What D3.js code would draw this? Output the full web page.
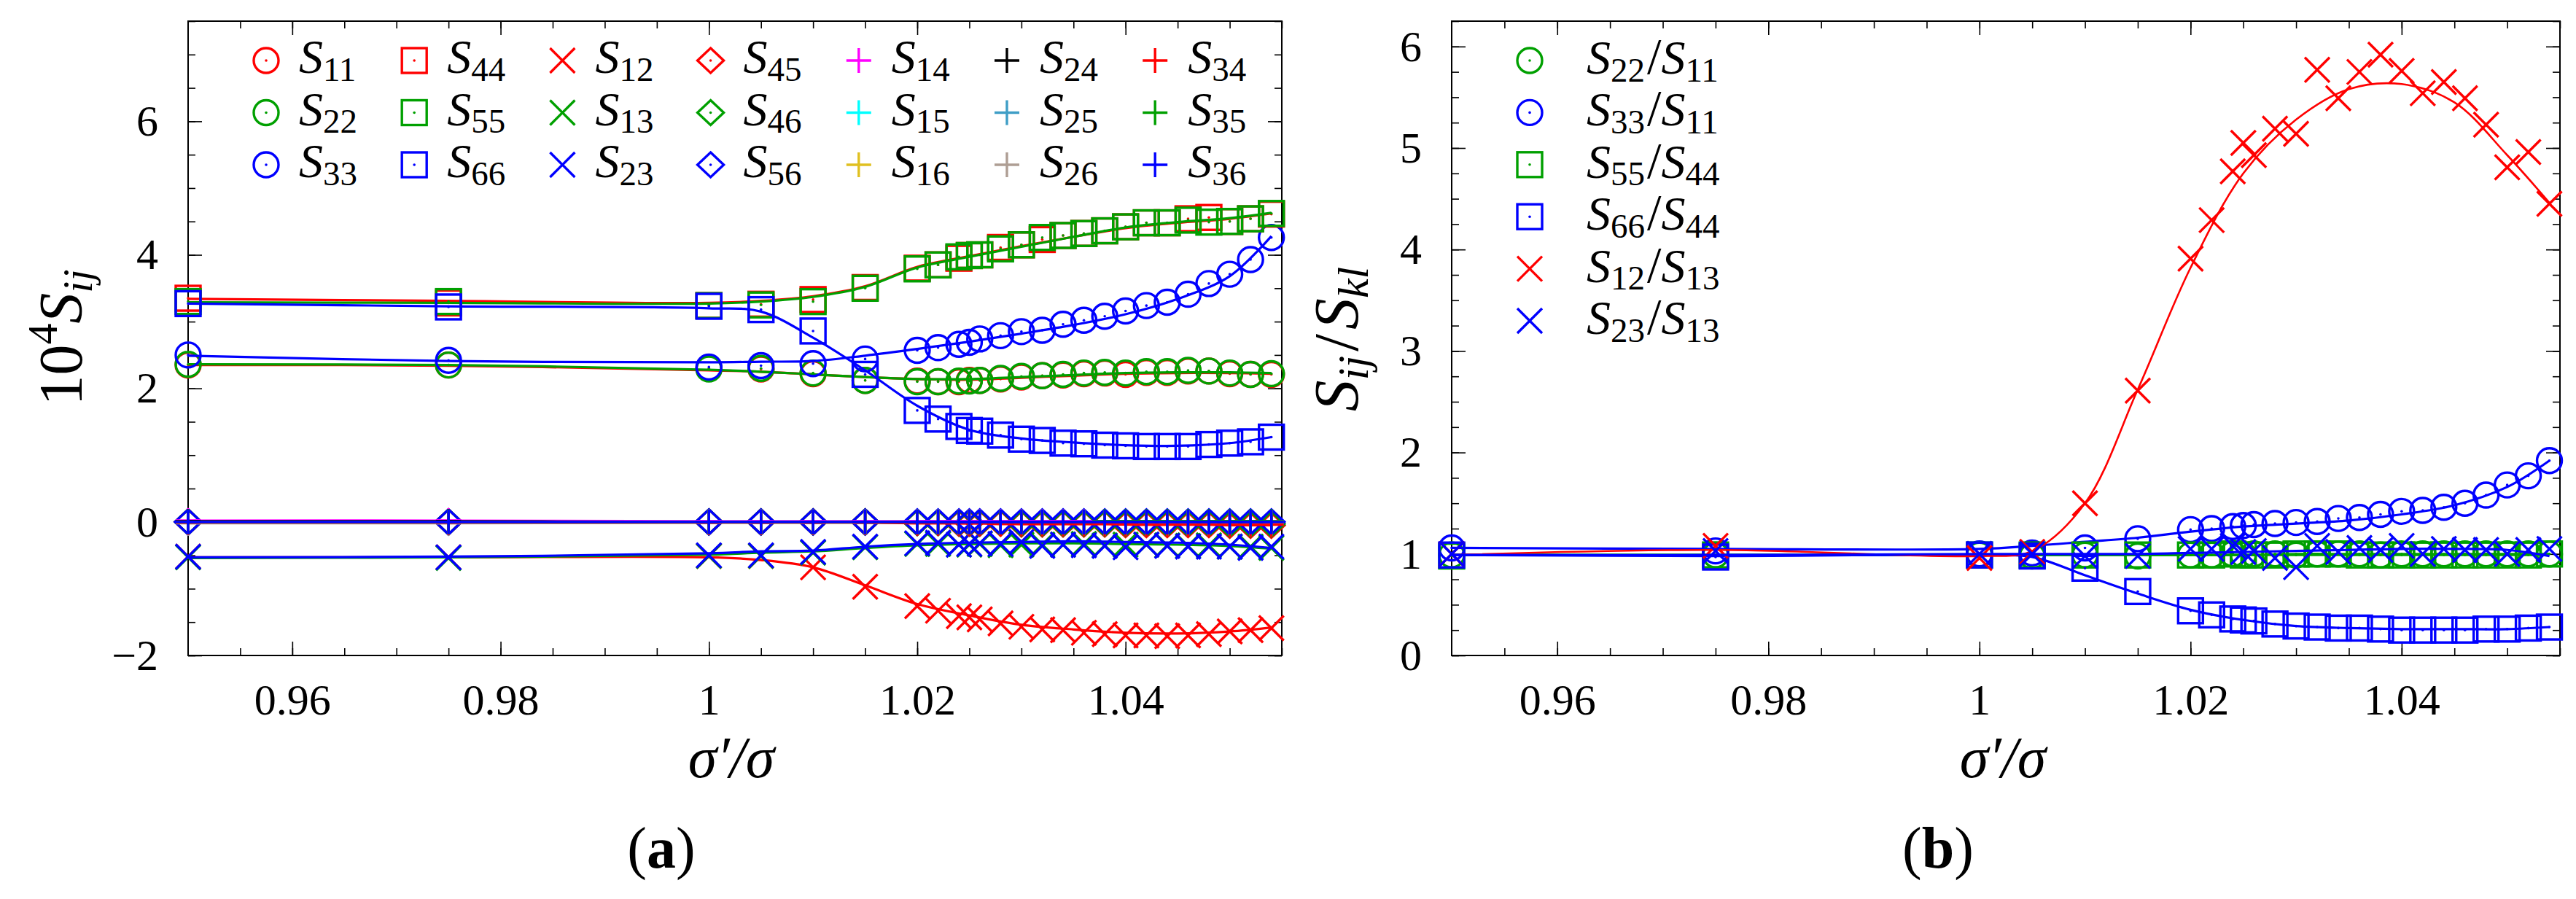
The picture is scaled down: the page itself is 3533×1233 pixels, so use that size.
<!DOCTYPE html>
<html>
<head>
<meta charset="utf-8">
<script src="https://cdn.jsdelivr.net/npm/d3@7"></script>
<style>
    body { margin: 0; background: #fff; }
    svg { display: block; }
    text { font-family: "Liberation Serif", "DejaVu Serif", serif; fill: #000; }
</style>
</head>
<body>
<div id="chart-area"></div>
<script>
// sigma'/sigma where the compliances were sampled
const xs = [0.95, 0.975, 1.0, 1.005, 1.01, 1.015, 1.02, 1.022, 1.024, 1.025, 1.026, 1.028, 1.03,
    1.032, 1.034, 1.036, 1.038, 1.04, 1.042, 1.044, 1.046, 1.048, 1.05, 1.052, 1.054];
// x positions of the fitted curves
const fitXs = [0.95, 0.975, 1.0, 1.005, 1.01, 1.015, 1.02, 1.025, 1.03, 1.035, 1.04, 1.045, 1.05, 1.054];

const xTicks = [0.96, 0.98, 1, 1.02, 1.04];
const yTicksA = [-2, 0, 2, 4, 6];
const yTicksB = [0, 1, 2, 3, 4, 5, 6];

// panel (a): 10^4 S_ij
const s11 = [2.35, 2.35, 2.30, 2.29, 2.22, 2.12, 2.11, 2.10, 2.10, 2.12, 2.12, 2.14, 2.17, 2.19, 2.20, 2.22, 2.23, 2.21, 2.24, 2.24, 2.26, 2.26, 2.22, 2.21, 2.21];
const s22 = [2.36, 2.35, 2.29, 2.30, 2.23, 2.12, 2.10, 2.10, 2.11, 2.11, 2.12, 2.15, 2.18, 2.19, 2.21, 2.23, 2.24, 2.23, 2.25, 2.25, 2.27, 2.26, 2.23, 2.21, 2.22];
const s33 = [2.50, 2.42, 2.32, 2.34, 2.37, 2.44, 2.57, 2.61, 2.66, 2.69, 2.74, 2.79, 2.85, 2.87, 2.96, 3.02, 3.08, 3.16, 3.24, 3.29, 3.41, 3.57, 3.71, 3.93, 4.26];
const s44 = [3.35, 3.28, 3.24, 3.26, 3.33, 3.51, 3.80, 3.85, 3.95, 3.99, 4.00, 4.11, 4.15, 4.23, 4.29, 4.32, 4.36, 4.42, 4.48, 4.48, 4.54, 4.56, 4.50, 4.54, 4.61];
const s55 = [3.30, 3.30, 3.24, 3.25, 3.30, 3.50, 3.79, 3.85, 3.97, 3.99, 4.00, 4.09, 4.15, 4.26, 4.29, 4.32, 4.36, 4.42, 4.48, 4.48, 4.52, 4.49, 4.50, 4.54, 4.62];
const s66 = [3.27, 3.22, 3.23, 3.18, 2.86, 2.21, 1.67, 1.54, 1.43, 1.37, 1.36, 1.30, 1.24, 1.22, 1.18, 1.17, 1.15, 1.14, 1.13, 1.13, 1.13, 1.16, 1.18, 1.20, 1.27];
const s12 = [-0.52, -0.53, -0.51, -0.51, -0.68, -0.97, -1.26, -1.33, -1.41, -1.43, -1.46, -1.52, -1.57, -1.61, -1.62, -1.66, -1.68, -1.70, -1.70, -1.71, -1.70, -1.68, -1.64, -1.62, -1.59];
const s13 = [-0.53, -0.54, -0.51, -0.51, -0.46, -0.38, -0.33, -0.33, -0.34, -0.34, -0.33, -0.35, -0.34, -0.34, -0.34, -0.33, -0.35, -0.34, -0.34, -0.35, -0.36, -0.35, -0.37, -0.37, -0.39];
const s23 = [-0.52, -0.53, -0.50, -0.50, -0.45, -0.37, -0.32, -0.31, -0.34, -0.33, -0.32, -0.33, -0.30, -0.36, -0.34, -0.35, -0.36, -0.38, -0.34, -0.36, -0.37, -0.37, -0.37, -0.39, -0.37];
const s45 = [0.00, 0.00, 0.00, 0.00, 0.00, 0.00, -0.01, -0.01, -0.02, -0.02, -0.02, -0.02, -0.03, -0.03, -0.03, -0.03, -0.03, -0.04, -0.04, -0.04, -0.04, -0.04, -0.05, -0.05, -0.05];
const s46 = [0.00, 0.00, 0.00, 0.00, 0.00, 0.00, -0.01, -0.01, -0.01, -0.01, -0.01, -0.01, -0.02, -0.02, -0.02, -0.02, -0.02, -0.02, -0.02, -0.02, -0.02, -0.02, -0.03, -0.03, -0.03];
const s56 = [0.00, 0.00, 0.00, 0.00, 0.00, 0.00, 0.00, 0.00, 0.00, 0.00, 0.00, 0.00, 0.00, 0.00, 0.00, 0.00, 0.00, 0.00, 0.00, 0.00, 0.00, 0.00, 0.00, 0.00, 0.00];
const s14 = [0.02, 0.02, 0.01, 0.01, 0.01, 0.01, 0.01, 0.01, 0.01, 0.01, 0.01, 0.01, 0.01, 0.01, 0.01, 0.01, 0.01, 0.01, 0.01, 0.01, 0.01, 0.01, 0.01, 0.01, 0.01];
const s15 = [0.00, 0.00, 0.00, 0.00, 0.00, 0.00, 0.00, 0.00, -0.01, -0.01, -0.01, -0.01, -0.01, -0.01, -0.02, -0.02, -0.02, -0.02, -0.02, -0.02, -0.02, -0.02, -0.02, -0.02, -0.02];
const s16 = [-0.01, -0.01, -0.01, -0.01, -0.01, -0.01, -0.01, -0.01, -0.01, -0.01, -0.01, -0.01, -0.01, -0.01, -0.01, -0.01, -0.01, -0.01, -0.01, -0.01, -0.01, -0.01, -0.01, -0.01, -0.01];
const s24 = [0.01, 0.01, 0.00, 0.00, 0.00, 0.00, 0.00, 0.00, 0.00, 0.00, -0.01, -0.01, -0.01, -0.01, -0.01, -0.01, -0.01, -0.01, -0.01, -0.01, -0.01, -0.01, -0.01, -0.01, -0.01];
const s25 = [0.00, 0.00, 0.00, 0.00, 0.00, 0.00, 0.00, 0.00, 0.00, 0.00, 0.00, 0.00, 0.00, 0.00, 0.00, 0.00, 0.00, 0.00, 0.00, 0.00, 0.00, 0.00, 0.00, 0.00, 0.00];
const s26 = [-0.02, -0.02, -0.01, -0.01, -0.01, -0.01, -0.01, -0.01, -0.01, -0.01, -0.01, -0.01, -0.01, -0.01, -0.01, -0.01, -0.01, -0.01, -0.01, -0.01, -0.01, -0.01, -0.01, -0.01, -0.01];
const s34 = [-0.01, -0.01, -0.01, -0.01, -0.01, -0.01, -0.02, -0.02, -0.02, -0.02, -0.02, -0.03, -0.03, -0.03, -0.03, -0.03, -0.03, -0.03, -0.04, -0.04, -0.04, -0.04, -0.04, -0.04, -0.04];
const s35 = [0.00, 0.00, 0.00, 0.00, 0.00, 0.00, 0.00, 0.00, 0.00, 0.00, 0.00, 0.00, 0.00, 0.00, 0.00, 0.00, 0.01, 0.01, 0.01, 0.01, 0.01, 0.01, 0.01, 0.01, 0.01];
const s36 = [0.00, 0.00, 0.00, 0.00, 0.00, 0.00, 0.00, 0.00, 0.00, 0.00, 0.00, 0.00, 0.00, 0.00, 0.00, 0.00, 0.00, 0.00, 0.00, 0.00, 0.00, 0.00, 0.00, 0.00, 0.00];

// fitted curves for panel (a), at fitXs
const fitS11 = [2.35, 2.34, 2.27, 2.25, 2.21, 2.17, 2.14, 2.13, 2.16, 2.19, 2.22, 2.23, 2.23, 2.22];
const fitS22 = [2.36, 2.35, 2.28, 2.25, 2.21, 2.17, 2.14, 2.14, 2.17, 2.20, 2.23, 2.24, 2.24, 2.23];
const fitS33 = [2.49, 2.41, 2.39, 2.40, 2.41, 2.49, 2.59, 2.70, 2.82, 2.95, 3.11, 3.34, 3.68, 4.28];
const fitS44 = [3.34, 3.31, 3.28, 3.31, 3.38, 3.53, 3.82, 3.98, 4.13, 4.27, 4.40, 4.48, 4.54, 4.62];
const fitS55 = [3.29, 3.28, 3.27, 3.30, 3.37, 3.52, 3.81, 3.97, 4.12, 4.27, 4.41, 4.49, 4.55, 4.63];
const fitS66 = [3.27, 3.23, 3.20, 3.15, 2.76, 2.27, 1.74, 1.38, 1.25, 1.19, 1.15, 1.14, 1.18, 1.27];
const fitS12 = [-0.53, -0.53, -0.53, -0.57, -0.68, -0.95, -1.23, -1.40, -1.54, -1.61, -1.66, -1.67, -1.64, -1.58];
const fitS13 = [-0.54, -0.53, -0.49, -0.46, -0.44, -0.39, -0.35, -0.33, -0.32, -0.32, -0.33, -0.34, -0.36, -0.40];
const fitS23 = [-0.53, -0.52, -0.47, -0.44, -0.43, -0.37, -0.33, -0.31, -0.30, -0.29, -0.30, -0.31, -0.34, -0.39];

// panel (b): ratios S_ij / S_kl
const r22to11 = [0.99, 0.99, 0.99, 0.98, 0.99, 0.98, 0.99, 0.99, 1.00, 0.99, 1.00, 1.00, 0.99, 1.00, 1.00, 1.00, 0.99, 1.00, 1.00, 1.00, 1.00, 1.00, 1.00, 1.00, 1.00];
const r33to11 = [1.06, 1.03, 1.00, 1.01, 1.06, 1.15, 1.24, 1.25, 1.27, 1.28, 1.29, 1.30, 1.31, 1.32, 1.35, 1.36, 1.39, 1.42, 1.43, 1.46, 1.50, 1.58, 1.68, 1.77, 1.92];
const r55to44 = [0.98, 0.99, 0.99, 0.99, 0.99, 0.99, 0.99, 0.99, 1.00, 0.99, 0.99, 0.99, 1.00, 1.00, 1.00, 0.99, 0.99, 0.99, 0.99, 0.99, 0.99, 0.99, 0.99, 0.99, 1.00];
const r66to44 = [0.99, 0.97, 0.99, 0.98, 0.86, 0.63, 0.44, 0.40, 0.36, 0.35, 0.34, 0.31, 0.29, 0.28, 0.27, 0.27, 0.26, 0.25, 0.25, 0.25, 0.25, 0.26, 0.26, 0.27, 0.28];
const r12to13 = [1.00, 1.08, 0.96, 1.02, 1.50, 2.61, 3.91, 4.29, 4.77, 5.05, 4.93, 5.19, 5.14, 5.77, 5.49, 5.75, 5.92, 5.76, 5.54, 5.65, 5.49, 5.23, 4.81, 4.96, 4.45];
const r23to13 = [1.00, 1.03, 1.00, 1.00, 0.98, 0.98, 1.05, 1.05, 1.08, 1.02, 1.03, 0.96, 0.87, 1.08, 1.02, 1.06, 1.04, 1.08, 1.00, 1.05, 1.04, 1.04, 1.00, 1.04, 1.05];

// fitted curves for panel (b), at fitXs
const fitR22to11 = [0.99, 0.99, 0.99, 0.99, 0.99, 0.99, 0.99, 0.99, 1.00, 1.00, 1.00, 1.00, 1.00, 1.00];
const fitR33to11 = [1.06, 1.05, 1.05, 1.08, 1.12, 1.16, 1.22, 1.27, 1.30, 1.33, 1.39, 1.48, 1.66, 1.92];
const fitR55to44 = [0.99, 0.99, 0.99, 0.99, 0.99, 0.99, 0.99, 0.99, 0.99, 0.99, 0.99, 0.99, 0.99, 0.99];
const fitR66to44 = [0.99, 0.98, 0.99, 0.97, 0.79, 0.61, 0.45, 0.35, 0.29, 0.27, 0.26, 0.26, 0.26, 0.28];
const fitR12to13 = [0.99, 1.04, 0.98, 1.03, 1.50, 2.62, 3.82, 4.75, 5.28, 5.58, 5.63, 5.45, 4.93, 4.46];
const fitR23to13 = [0.99, 0.99, 1.00, 1.00, 1.00, 1.00, 1.01, 1.02, 1.03, 1.04, 1.05, 1.05, 1.04, 0.98];

const RED = "#ff0000", GREEN = "#00a000", BLUE = "#0000ff";

const chartSize = {width: 3533, height: 1233};
const panelA = {left: 258, right: 1758, top: 29, bottom: 899};
const panelB = {left: 1991, right: 3511, top: 29, bottom: 899};

const seriesA = [
    {sub: "11", vals: s11, fit: fitS11, color: RED, type: "circle"},
    {sub: "22", vals: s22, fit: fitS22, color: GREEN, type: "circle"},
    {sub: "33", vals: s33, fit: fitS33, color: BLUE, type: "circle"},
    {sub: "44", vals: s44, fit: fitS44, color: RED, type: "square"},
    {sub: "55", vals: s55, fit: fitS55, color: GREEN, type: "square"},
    {sub: "66", vals: s66, fit: fitS66, color: BLUE, type: "square"},
    {sub: "12", vals: s12, fit: fitS12, color: RED, type: "x"},
    {sub: "13", vals: s13, fit: fitS13, color: GREEN, type: "x"},
    {sub: "23", vals: s23, fit: fitS23, color: BLUE, type: "x"},
    {sub: "45", vals: s45, color: RED, type: "diamond"},
    {sub: "46", vals: s46, color: GREEN, type: "diamond"},
    {sub: "56", vals: s56, color: BLUE, type: "diamond"},
    {sub: "14", vals: s14, color: "#ff00ff", type: "plus"},
    {sub: "15", vals: s15, color: "#00ffff", type: "plus"},
    {sub: "16", vals: s16, color: "#e0c020", type: "plus"},
    {sub: "24", vals: s24, color: "#000000", type: "plus"},
    {sub: "25", vals: s25, color: "#3f9ec6", type: "plus"},
    {sub: "26", vals: s26, color: "#ae9e94", type: "plus"},
    {sub: "34", vals: s34, color: RED, type: "plus"},
    {sub: "35", vals: s35, color: GREEN, type: "plus"},
    {sub: "36", vals: s36, color: BLUE, type: "plus"}
];

const seriesB = [
    {num: "22", den: "11", vals: r22to11, fit: fitR22to11, color: GREEN, type: "circle"},
    {num: "33", den: "11", vals: r33to11, fit: fitR33to11, color: BLUE, type: "circle"},
    {num: "55", den: "44", vals: r55to44, fit: fitR55to44, color: GREEN, type: "square"},
    {num: "66", den: "44", vals: r66to44, fit: fitR66to44, color: BLUE, type: "square"},
    {num: "12", den: "13", vals: r12to13, fit: fitR12to13, color: RED, type: "x", lw: 2.6},
    {num: "23", den: "13", vals: r23to13, fit: fitR23to13, color: BLUE, type: "x"}
];

const drawMarker = (g, type, color, cx, cy) => {
    const m = g.append("g")
        .attr("transform", `translate(${cx},${cy})`)
        .attr("fill", "none")
        .attr("stroke", color)
        .attr("stroke-width", 3.4);
    if (type === "circle") {
        m.append("circle").attr("r", 17);
    } else if (type === "square") {
        m.append("rect").attr("x", -17).attr("y", -17).attr("width", 34).attr("height", 34);
    } else if (type === "x") {
        m.append("path").attr("d", "M-17,-17L17,17M-17,17L17,-17");
    } else if (type === "diamond") {
        m.append("path").attr("d", "M0,-17L18,0L0,17L-18,0Z");
    } else if (type === "plus") {
        m.append("path").attr("d", "M-17,0L17,0M0,-17L0,17");
    }
    if (type === "circle" || type === "square" || type === "diamond") {
        m.append("circle").attr("r", 1.8).attr("fill", color).attr("stroke", "none");
    }
};

const drawFrame = (svg, p, x, y, yMinor, yTicks) => {
    const xMinor = d3.range(0.955, 1.0551, 0.005);
    const g = svg.append("g");

    g.append("g").attr("transform", `translate(0,${p.bottom})`)
        .call(d3.axisBottom(x).tickValues(xMinor).tickSize(-10).tickFormat(""));
    g.append("g").attr("transform", `translate(0,${p.top})`)
        .call(d3.axisTop(x).tickValues(xMinor).tickSize(-10).tickFormat(""));
    g.append("g").attr("transform", `translate(0,${p.bottom})`).attr("class", "x-axis")
        .call(d3.axisBottom(x).tickValues(xTicks).tickSize(-19).tickPadding(38).tickFormat(d3.format("~g")));
    g.append("g").attr("transform", `translate(0,${p.top})`)
        .call(d3.axisTop(x).tickValues(xTicks).tickSize(-19).tickFormat(""));

    g.append("g").attr("transform", `translate(${p.left},0)`)
        .call(d3.axisLeft(y).tickValues(yMinor).tickSize(-10).tickFormat(""));
    g.append("g").attr("transform", `translate(${p.right},0)`)
        .call(d3.axisRight(y).tickValues(yMinor).tickSize(-10).tickFormat(""));
    g.append("g").attr("transform", `translate(${p.left},0)`).attr("class", "y-axis")
        .call(d3.axisLeft(y).tickValues(yTicks).tickSize(-19).tickPadding(41).tickFormat(d3.format("~g")));
    g.append("g").attr("transform", `translate(${p.right},0)`)
        .call(d3.axisRight(y).tickValues(yTicks).tickSize(-19).tickFormat(""));

    g.selectAll(".domain").remove();
    // unlabeled tick groups leave empty text nodes behind
    g.selectAll(".tick text").filter(function () { return !this.textContent; }).remove();
    g.selectAll(".tick line").attr("stroke", "#000").attr("stroke-width", 1.6);
    g.selectAll(".tick text").attr("font-size", 60).attr("font-family", "Liberation Serif, serif");

    g.append("rect")
        .attr("x", p.left).attr("y", p.top)
        .attr("width", p.right - p.left).attr("height", p.bottom - p.top)
        .attr("fill", "none").attr("stroke", "#000").attr("stroke-width", 2);
};

// italic S with a subscript; returns how far the baseline was shifted
const addSub = (t, sub, size, subSize, dy0) => {
    t.append("tspan").attr("font-style", "italic").attr("font-size", size).attr("dy", dy0 || 0).text("S");
    const shift = size * 0.16;
    t.append("tspan").attr("font-size", subSize).attr("dy", shift).text(sub);
    return shift;
};

const drawSeries = (g, list, x, y, fitX) => {
    list.forEach(s => {
        const line = d3.line().curve(d3.curveCatmullRom.alpha(0.5));
        const pts = s.fit ? fitX.map((v, i) => [x(v), y(s.fit[i])]) : xs.map((v, i) => [x(v), y(s.vals[i])]);
        g.append("path")
            .attr("d", line(pts))
            .attr("fill", "none")
            .attr("stroke", s.color)
            .attr("stroke-width", s.lw || 3.2);
        xs.forEach((v, i) => drawMarker(g, s.type, s.color, x(v), y(s.vals[i])));
    });
};

const drawChart = () => {
    const svg = d3.select("#chart-area")
        .append("svg")
        .attr("width", chartSize.width)
        .attr("height", chartSize.height);

    svg.append("rect").attr("width", chartSize.width).attr("height", chartSize.height).attr("fill", "#fff");

    // ---------- panel (a)
    const xA = d3.scaleLinear().domain([0.95, 1.055]).range([panelA.left, panelA.right]);
    const yA = d3.scaleLinear().domain([-2, 7.5]).range([panelA.bottom, panelA.top]);
    drawFrame(svg, panelA, xA, yA, d3.range(-2, 7.51, 0.5), yTicksA);

    const gA = svg.append("g");
    drawSeries(gA, seriesA, xA, yA, fitXs);

    const legA = svg.append("g");
    seriesA.forEach((s, i) => {
        const col = Math.floor(i / 3), row = i % 3;
        const cx = 365 + col * 203.2, cy = 83 + row * 71.5;
        drawMarker(legA, s.type, s.color, cx, cy);
        const t = legA.append("text").attr("x", cx + 45).attr("y", cy + 17);
        addSub(t, s.sub, 66, 47);
    });

    const ylA = svg.append("text")
        .attr("transform", `translate(112,463) rotate(-90)`)
        .attr("text-anchor", "middle")
        .attr("font-size", 84);
    ylA.append("tspan").text("10");
    ylA.append("tspan").attr("font-size", 58).attr("dy", -34).text("4");
    ylA.append("tspan").attr("font-style", "italic").attr("dy", 34).text("S");
    ylA.append("tspan").attr("font-style", "italic").attr("font-size", 58).attr("dy", 14).text("ij");

    svg.append("text")
        .attr("x", (panelA.left + panelA.right) / 2 - 5).attr("y", 1066)
        .attr("text-anchor", "middle").attr("font-size", 80).attr("font-style", "italic")
        .text("\u03c3\u2032/\u03c3");

    const labA = svg.append("text").attr("x", 907).attr("y", 1190).attr("text-anchor", "middle").attr("font-size", 80);
    labA.append("tspan").text("(");
    labA.append("tspan").attr("font-weight", "bold").text("a");
    labA.append("tspan").text(")");

    // ---------- panel (b)
    const xB = d3.scaleLinear().domain([0.95, 1.055]).range([panelB.left, panelB.right]);
    const yB = d3.scaleLinear().domain([0, 6.25]).range([panelB.bottom, panelB.top]);
    drawFrame(svg, panelB, xB, yB, d3.range(0, 6.26, 0.25), yTicksB);

    const gB = svg.append("g");
    drawSeries(gB, seriesB, xB, yB, fitXs);

    const legB = svg.append("g");
    seriesB.forEach((s, i) => {
        const cx = 2098, cy = 83 + i * 71.4;
        drawMarker(legB, s.type, s.color, cx, cy);
        const t = legB.append("text").attr("x", cx + 78).attr("y", cy + 18);
        const shift = addSub(t, s.num, 66, 47);
        t.append("tspan").attr("font-size", 70).attr("dx", 3).attr("dy", -shift).text("/");
        addSub(t, s.den, 66, 47);
    });

    const ylB = svg.append("text")
        .attr("transform", `translate(1862,465) rotate(-90)`)
        .attr("text-anchor", "middle")
        .attr("font-size", 86);
    ylB.append("tspan").attr("font-style", "italic").text("S");
    ylB.append("tspan").attr("font-style", "italic").attr("font-size", 60).attr("dy", 14).text("ij");
    ylB.append("tspan").attr("dy", -14).attr("dx", 6).text("/");
    ylB.append("tspan").attr("font-style", "italic").attr("dx", 6).text("S");
    ylB.append("tspan").attr("font-style", "italic").attr("font-size", 60).attr("dy", 14).text("kl");

    svg.append("text")
        .attr("x", 2747).attr("y", 1066)
        .attr("text-anchor", "middle").attr("font-size", 80).attr("font-style", "italic")
        .text("\u03c3\u2032/\u03c3");

    const labB = svg.append("text").attr("x", 2658).attr("y", 1190).attr("text-anchor", "middle").attr("font-size", 80);
    labB.append("tspan").text("(");
    labB.append("tspan").attr("font-weight", "bold").text("b");
    labB.append("tspan").text(")");
};

drawChart();
</script>
</body>
</html>
